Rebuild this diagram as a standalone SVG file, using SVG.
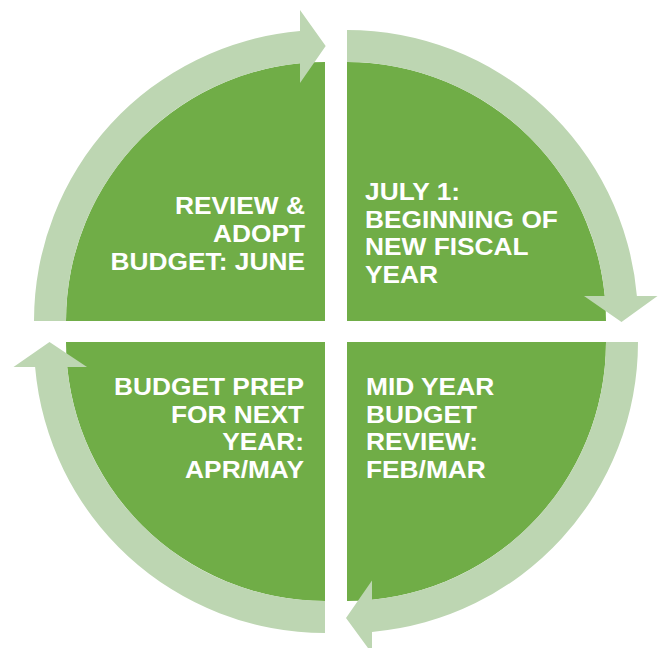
<svg xmlns="http://www.w3.org/2000/svg" width="664" height="648" viewBox="0 0 664 648">
<style>
.pie{fill:#70AD47}
.arr{fill:#BDD6B2}
.t{font-family:"Liberation Sans",Arial,sans-serif;font-weight:bold;font-size:23.5px;fill:#FFFFFF}
.r{text-anchor:end}
</style>
<rect width="664" height="648" fill="#FFFFFF"/>
<g id="node-review-adopt">
<path class="pie" d="M325,321 L66,321 A259,259 0 0 1 325,62 Z"/>
<g transform="translate(305,0) scale(1.12,1)">
<text class="t r" x="0" y="214.5">REVIEW &amp;</text>
<text class="t r" x="0" y="242">ADOPT</text>
<text class="t r" x="0" y="269.6">BUDGET: JUNE</text>
</g>
</g>
<g id="node-july">
<path class="pie" d="M347,321 L347,62 A259,259 0 0 1 606,321 Z"/>
<g transform="translate(365,0) scale(1.12,1)">
<text class="t" x="0" y="200">JULY 1:</text>
<text class="t" x="0" y="227.6">BEGINNING OF</text>
<text class="t" x="0" y="255.2">NEW FISCAL</text>
<text class="t" x="0" y="282.8">YEAR</text>
</g>
</g>
<g id="node-midyear">
<path class="pie" d="M347,342 L606,342 A259,259 0 0 1 347,601 Z"/>
<g transform="translate(366,0) scale(1.12,1)">
<text class="t" x="0" y="395">MID YEAR</text>
<text class="t" x="0" y="422.6">BUDGET</text>
<text class="t" x="0" y="450.2">REVIEW:</text>
<text class="t" x="0" y="477.8">FEB/MAR</text>
</g>
</g>
<g id="node-budget-prep">
<path class="pie" d="M325,342 L325,601 A259,259 0 0 1 66,342 Z"/>
<g transform="translate(304,0) scale(1.12,1)">
<text class="t r" x="0" y="395">BUDGET PREP</text>
<text class="t r" x="0" y="422.6">FOR NEXT</text>
<text class="t r" x="0" y="450.2">YEAR:</text>
<text class="t r" x="0" y="477.8">APR/MAY</text>
</g>
</g>
<g id="connectors">
<path class="arr" d="M347,30 A291,291 0 0 1 636.9,296 L657.5,296 L621.5,322 L584,296 L604.8,296 A259,259 0 0 0 347,62 Z"/>
<path class="arr" d="M638,342 A291,291 0 0 1 372,631.9 L372,653.5 L346,618 L372,580.5 L372,599.8 A259,259 0 0 0 606,342 Z"/>
<path class="arr" d="M325,633 A291,291 0 0 1 35.1,367 L13.5,367 L49.5,342 L87,367 L67.2,367 A259,259 0 0 0 325,601 Z"/>
<path class="arr" d="M34,321 A291,291 0 0 1 300,31.1 L300,10 L325.7,46 L300,83 L300,63.2 A259,259 0 0 0 66,321 Z"/>
</g>
</svg>
